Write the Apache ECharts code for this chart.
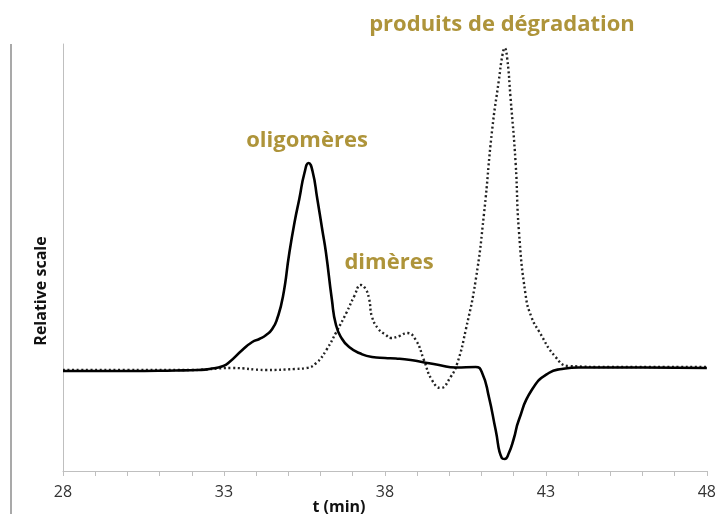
<!DOCTYPE html>
<html>
<head>
<meta charset="utf-8">
<script src="https://cdn.jsdelivr.net/npm/echarts@6/dist/echarts.min.js"></script>
<style>
  html, body { margin: 0; padding: 0; background: #fff; }
  #chart { width: 719px; height: 514px; }
</style>
</head>
<body>
<div id="chart"></div>
<script>
// Chromatogram traces: retention time (min) and relative signal
const solidTime = [28, 30, 31.5, 32.2, 32.55, 32.98, 33.17, 33.57, 33.88, 34.1, 34.31, 34.5, 34.65, 34.83, 35.03, 35.2, 35.34, 35.5, 35.63, 35.75, 35.9, 36.05, 36.17, 36.35, 36.48, 36.67, 36.89, 37.2, 37.6, 38.0, 38.34, 38.8, 39.15, 39.68, 40.2, 40.82, 41.02, 41.23, 41.44, 41.63, 41.72, 41.85, 42.0, 42.16, 42.56, 43.09, 43.5, 44.02, 46, 48];
const solidSignal = [0, 0, 0.5, 1, 2, 5, 9, 21, 29, 32, 36, 42, 52, 74, 118, 150, 172, 198, 208, 200, 172, 142, 118, 72, 46, 32, 24, 18, 14, 13, 12.5, 11, 9, 6, 3.5, 4, -2, -26, -59, -87, -88, -82, -68, -49, -19, -2, 2, 3.5, 3.5, 3];

const dottedTime = [28, 30, 32, 33.26, 34.32, 35.2, 35.56, 35.87, 36.18, 36.49, 36.8, 37.05, 37.25, 37.4, 37.51, 37.6, 37.8, 38.03, 38.18, 38.45, 38.69, 38.96, 39.21, 39.46, 39.73, 40.04, 40.25, 40.51, 40.82, 41.08, 41.33, 41.54, 41.65, 41.72, 41.8, 41.9, 42.06, 42.16, 42.37, 42.55, 42.78, 43.3, 43.71, 45, 48];
const dottedSignal = [1, 1, 1, 3, 1, 2, 3, 8, 21, 39, 58, 75, 86, 82, 72, 54, 42, 36, 33, 35, 38, 31, 11, -9, -17, -6, 8, 41, 91, 158, 241, 291, 316, 323, 312, 274, 208, 141, 76, 54, 40, 14, 5, 4, 4];

// Axis tick labels shown every 5 minutes
const xTickLabels = [28, 33, 38, 43, 48];

// Peak annotations
const peakLabels = [
  { text: 'produits de dégradation', x: 502, y: 25 },
  { text: 'oligomères', x: 307, y: 141 },
  { text: 'dimères', x: 389, y: 263 }
];

const pair = (ts, vs) => ts.map((t, i) => [t, vs[i]]);
const gold = '#AE943A';
const axisGray = '#bfbfbf';

const chart = echarts.init(document.getElementById('chart'));
chart.setOption({
  animation: false,
  backgroundColor: '#fff',
  grid: { left: 63, right: 11, top: 44, bottom: 43 },
  xAxis: {
    type: 'value',
    min: 28,
    max: 48,
    interval: 1,
    axisLine: { show: true, onZero: false, lineStyle: { color: axisGray, width: 1 } },
    axisTick: { show: true, length: 5, lineStyle: { color: axisGray } },
    splitLine: { show: false },
    axisLabel: {
      margin: 13,
      color: '#333',
      fontFamily: 'Open Sans',
      fontSize: 16,
      formatter: v => (xTickLabels.includes(v) ? String(v) : '')
    }
  },
  yAxis: {
    type: 'value',
    min: -100,
    max: 327,
    axisLine: { show: true, lineStyle: { color: axisGray, width: 1 } },
    axisTick: { show: false },
    axisLabel: { show: false },
    splitLine: { show: false }
  },
  series: [
    {
      name: 'trace pleine',
      type: 'line',
      data: pair(solidTime, solidSignal),
      showSymbol: false,
      smooth: 0.55,
      lineStyle: { color: '#000', width: 2.6 },
      z: 3
    },
    {
      name: 'trace pointillée',
      type: 'line',
      data: pair(dottedTime, dottedSignal),
      showSymbol: false,
      smooth: 0.5,
      lineStyle: { color: '#222', width: 2.4, type: [2, 2.6] },
      z: 2
    }
  ],
  graphic: [
    {
      type: 'line',
      shape: { x1: 11, y1: 44, x2: 11, y2: 514 },
      style: { stroke: '#8c8c8c', lineWidth: 1.5 }
    },
    {
      type: 'text',
      x: 339, y: 507,
      style: {
        text: 't (min)', fill: '#111', font: 'bold 16px "Open Sans"',
        align: 'center', verticalAlign: 'middle'
      }
    },
    {
      type: 'text',
      x: 41, y: 291,
      rotation: Math.PI / 2,
      style: {
        text: 'Relative scale', fill: '#111', font: 'bold 16px "Open Sans"',
        align: 'center', verticalAlign: 'middle'
      }
    }
  ].concat(peakLabels.map(p => ({
    type: 'text',
    x: p.x, y: p.y,
    style: {
      text: p.text, fill: gold, font: 'bold 22px "Open Sans"',
      align: 'center', verticalAlign: 'middle'
    }
  })))
});
</script>
</body>
</html>
